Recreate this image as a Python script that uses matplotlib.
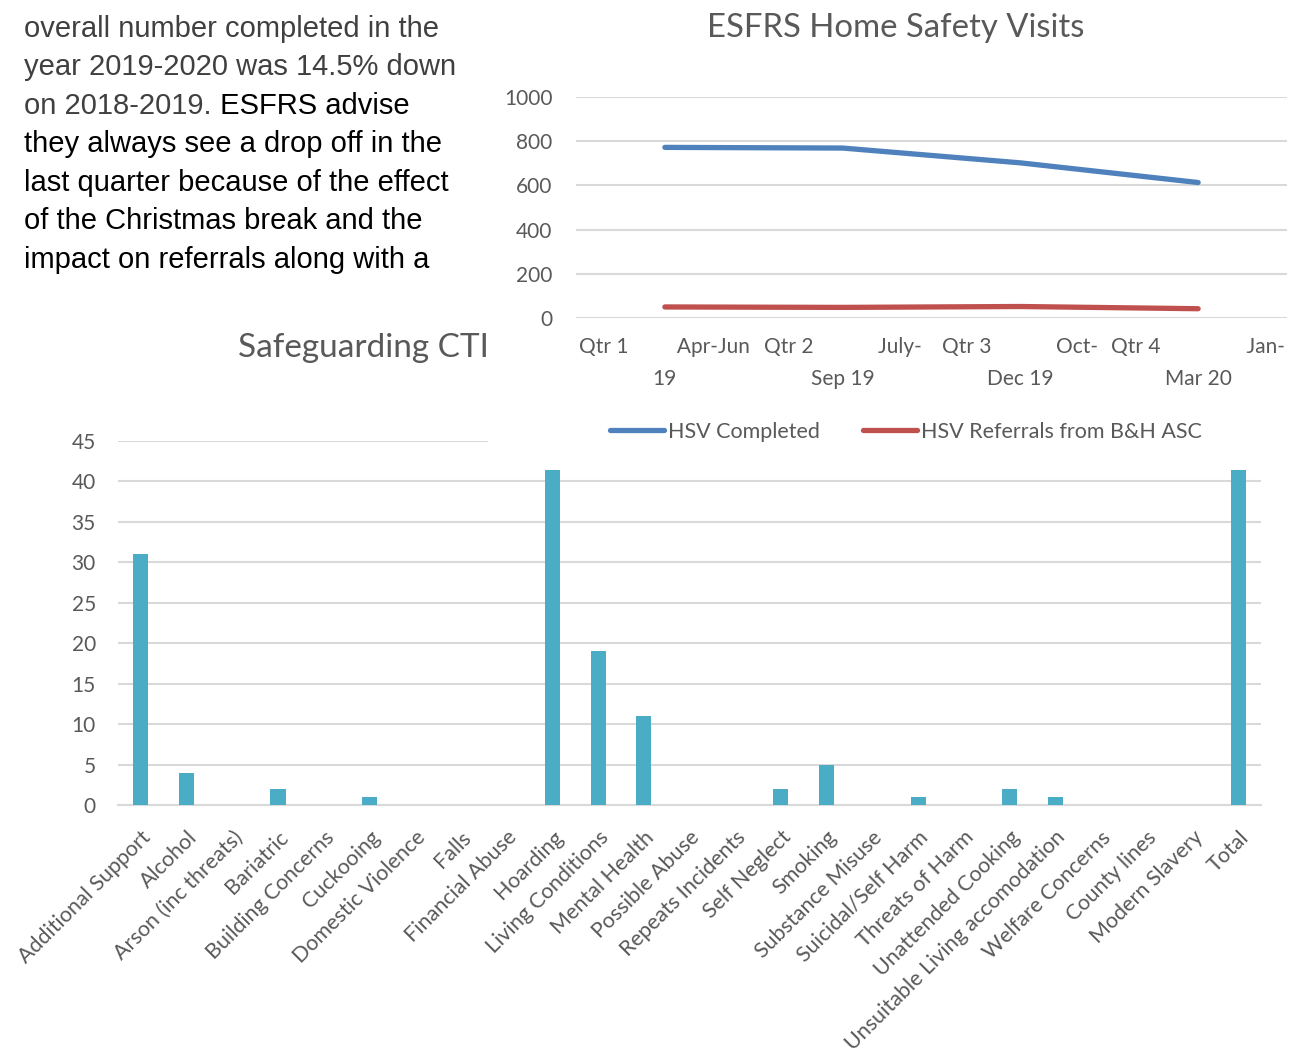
import matplotlib.pyplot as plt
from matplotlib.patches import Rectangle

W, H = 1299, 1053

# --- data ---
para_gray = ["overall number completed in the",
             "year 2019-2020 was 14.5% down",
             "on 2018-2019."]
para_black = ["they always see a drop off in the",
              "last quarter because of the effect",
              "of the Christmas break and the",
              "impact on referrals along with a"]

quarters = ["Qtr 1         Apr-Jun\n19",
            "Qtr 2            July-\nSep 19",
            "Qtr 3            Oct-\nDec 19",
            "Qtr 4                Jan-\nMar 20"]
hsv_completed = [772, 769, 702, 613]
hsv_referrals = [50, 48, 52, 42]

categories = ["Additional Support", "Alcohol", "Arson (inc threats)", "Bariatric",
              "Building Concerns", "Cuckooing", "Domestic Violence", "Falls",
              "Financial Abuse", "Hoarding", "Living Conditions", "Mental Health",
              "Possible Abuse", "Repeats Incidents", "Self Neglect", "Smoking",
              "Substance Misuse", "Suicidal/Self Harm", "Threats of Harm",
              "Unattended Cooking", "Unsuitable Living accomodation",
              "Welfare Concerns", "County lines", "Modern Slavery", "Total"]
cti_counts = [31, 4, 0, 2, 0, 1, 0, 0, 0, 43, 19, 11, 0, 0, 2, 5, 0, 1, 0, 2, 1,
              0, 0, 0, 122]

grey = "#595959"
grid = "#d9d9d9"
cfont = "Lato"

fig = plt.figure(figsize=(W / 100, H / 100), dpi=100)

# --- bar chart (Safeguarding CTI) ---
ax = fig.add_axes([118 / W, 1 - 805 / H, 1143 / W, 364 / H], zorder=0)
ax.bar(range(len(categories)), cti_counts, width=0.33, color="#4bacc6", zorder=3)
ax.set_xlim(-0.5, len(categories) - 0.5)
ax.set_ylim(0, 45)
ax.set_yticks(range(0, 46, 5))
ax.yaxis.grid(True, color=grid, lw=1.5, zorder=0)
for s in ["top", "left", "right"]:
    ax.spines[s].set_visible(False)
ax.spines["bottom"].set_color(grid)
ax.spines["bottom"].set_linewidth(1.5)
ax.set_xticks(range(len(categories)))
ax.set_xticklabels(categories, rotation=45, ha="right", va="top",
                   rotation_mode="anchor", fontsize=15.5, color=grey, family=cfont)
ax.tick_params(axis="x", length=0, pad=16)
ax.tick_params(axis="y", length=0, pad=16, labelsize=15, labelcolor=grey)
for t in ax.get_yticklabels():
    t.set_family(cfont)

fig.text(238 / W, 1 - 348 / H, "Safeguarding CTI", ha="left", va="center",
         fontsize=24, color=grey, family=cfont, zorder=1)

# white backing of the line chart picture laid over the bar chart
fig.patches.append(Rectangle((488 / W, 1 - 470 / H), 811 / W, 470 / H,
                             transform=fig.transFigure, facecolor="white",
                             edgecolor="none", zorder=2))

# --- line chart (ESFRS Home Safety Visits) ---
lx = fig.add_axes([576 / W, 1 - 318 / H, 711 / W, 221 / H], zorder=3)
lx.set_facecolor("none")
lx.plot(range(4), hsv_completed, color="#4f81bd", lw=3.8, solid_capstyle="round",
        solid_joinstyle="round", label="HSV Completed")
lx.plot(range(4), hsv_referrals, color="#c0504d", lw=3.8, solid_capstyle="round",
        solid_joinstyle="round", label="HSV Referrals from B&H ASC")
lx.set_xlim(-0.5, 3.5)
lx.set_ylim(0, 1000)
lx.set_yticks(range(0, 1001, 200))
lx.yaxis.grid(True, color=grid, lw=1.5)
lx.set_axisbelow(True)
for s in lx.spines.values():
    s.set_visible(False)
lx.set_xticks(range(4))
lx.set_xticklabels(quarters, fontsize=15, color=grey, family=cfont,
                   linespacing=1.7)
lx.tick_params(axis="x", length=0, pad=14)
lx.tick_params(axis="y", length=0, pad=17, labelsize=15, labelcolor=grey)
for t in lx.get_yticklabels():
    t.set_family(cfont)

fig.text(896 / W, 1 - 28 / H, "ESFRS Home Safety Visits", ha="center", va="center",
         fontsize=23.7, color=grey, family=cfont, zorder=4)

leg = fig.legend(*lx.get_legend_handles_labels(), loc="center",
                 bbox_to_anchor=(906 / W, 1 - 432 / H), ncol=2, frameon=False,
                 prop={"family": cfont, "size": 15.5}, handlelength=2.5,
                 handletextpad=0.2, columnspacing=2.0)
for t in leg.get_texts():
    t.set_color(grey)
leg.set_zorder(5)

# --- paragraph text ---
y0 = 1 - 36.7 / H
dy = 38.5 / H
for i, line in enumerate(para_gray):
    t = fig.text(24 / W, y0 - i * dy, line, fontsize=21, color="#404040",
                 family="Liberation Sans", va="baseline", zorder=6)
fig.add_artist(plt.Annotation(" ESFRS advise", xy=(1, 0), xycoords=t,
                              va="bottom", ha="left", fontsize=21, color="black",
                              family="Liberation Sans", annotation_clip=False,
                              zorder=6))
for j, line in enumerate(para_black):
    fig.text(24 / W, y0 - (j + 3) * dy, line, fontsize=21, color="black",
             family="Liberation Sans", va="baseline", zorder=6)

fig.savefig("out.png", dpi=100, facecolor="white")
